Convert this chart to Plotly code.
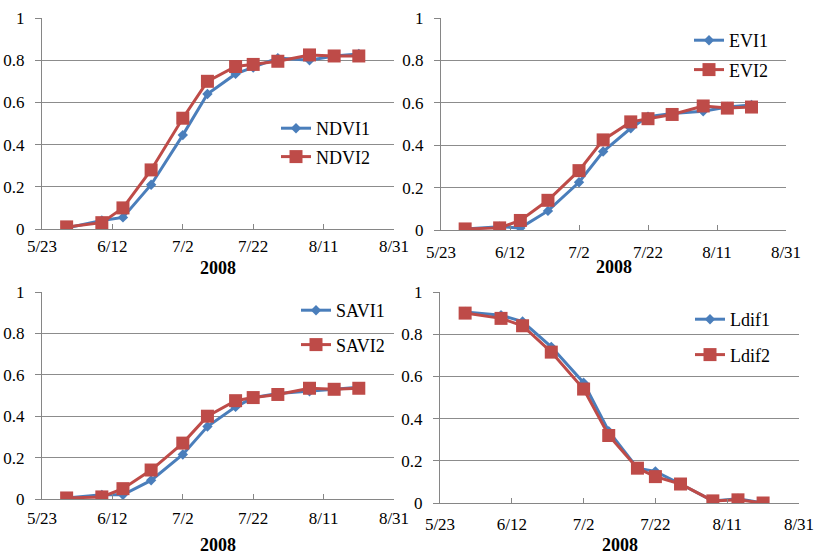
import plotly.graph_objects as go

dates = ["2008-05-30", "2008-06-09", "2008-06-15", "2008-06-23", "2008-07-02", "2008-07-09",
         "2008-07-17", "2008-07-22", "2008-07-29", "2008-08-07", "2008-08-14", "2008-08-21"]

ndvi1 = [0.005, 0.04, 0.055, 0.21, 0.445, 0.64, 0.735, 0.765, 0.81, 0.80, 0.82, 0.83]
ndvi2 = [0.01, 0.03, 0.10, 0.28, 0.525, 0.70, 0.77, 0.78, 0.795, 0.825, 0.82, 0.82]
evi1 = [0.005, 0.015, 0.01, 0.09, 0.225, 0.37, 0.48, 0.535, 0.55, 0.56, 0.58, 0.59]
evi2 = [0.005, 0.01, 0.045, 0.14, 0.28, 0.425, 0.51, 0.525, 0.545, 0.585, 0.575, 0.58]
savi1 = [0.005, 0.02, 0.02, 0.09, 0.215, 0.35, 0.445, 0.49, 0.51, 0.52, 0.53, 0.54]
savi2 = [0.005, 0.01, 0.05, 0.14, 0.27, 0.40, 0.475, 0.49, 0.505, 0.535, 0.53, 0.535]
ldif1 = [0.905, 0.89, 0.86, 0.74, 0.57, 0.34, 0.165, 0.15, 0.09, 0.01, 0.02, 0.0]
ldif2 = [0.90, 0.875, 0.84, 0.715, 0.54, 0.32, 0.165, 0.125, 0.09, 0.01, 0.015, 0.0]

panels = [
    ("NDVI1", ndvi1, "NDVI2", ndvi2),
    ("EVI1", evi1, "EVI2", evi2),
    ("SAVI1", savi1, "SAVI2", savi2),
    ("Ldif1", ldif1, "Ldif2", ldif2),
]
axis_title = "2008"
x_start, x_end = "2008-05-23", "2008-08-31"

W, H = 817, 554
BLUE = "#4A7EBB"
RED = "#BE4B48"
FONT = "'Liberation Serif', 'Times New Roman', serif"

# pixel geometry of each panel: (left, right, top(y=1), bottom(y=0))
geom = [(42, 394, 18, 229), (441, 786, 18, 230), (42, 394, 292, 499), (440, 799, 292, 503)]
# x tick-label standoff and title offset below the axis
xlab = [(2, -39), (7, -37), (4, -46), (6, -42)]
# legend placement (left px, top px, gap)
leg = [(276, 110, 2), (689, 22, 3), (296, 292, 8), (690, 301, 9)]

fig = go.Figure()
layout = dict(width=W, height=H, margin=dict(l=0, r=0, t=0, b=0, autoexpand=False),
              paper_bgcolor="white", plot_bgcolor="white",
              font=dict(family=FONT, size=17, color="black"), annotations=[])

for i, (n1, v1, n2, v2) in enumerate(panels):
    k = "" if i == 0 else str(i + 1)
    lg = "legend" if i == 0 else f"legend{i + 1}"
    fig.add_trace(go.Scatter(x=dates, y=v1, name=n1, mode="lines+markers",
                             line=dict(color=BLUE, width=3),
                             marker=dict(symbol="diamond", size=8, color=BLUE),
                             xaxis="x" + k, yaxis="y" + k, legend=lg, legendgroup=f"a{i}"))
    fig.add_trace(go.Scatter(x=dates, y=v2, name=n2, mode="lines+markers",
                             line=dict(color=RED, width=3),
                             marker=dict(symbol="square", size=13, color=RED),
                             xaxis="x" + k, yaxis="y" + k, legend=lg, legendgroup=f"b{i}"))
    l, r, t, b = geom[i]
    so, ty = xlab[i]
    layout["xaxis" + k] = dict(
        domain=[l / W, r / W], anchor="y" + k, type="date", automargin=False,
        range=[x_start, x_end], tick0=x_start, dtick=20 * 86400000,
        tickformat="%-m/%-d", ticks="inside", ticklen=5, tickcolor="#868686",
        showline=True, linecolor="#868686", linewidth=1, showgrid=False,
        tickfont=dict(family=FONT, size=17), zeroline=False, ticklabelstandoff=so)
    layout["yaxis" + k] = dict(
        domain=[1 - b / H, 1 - t / H], anchor="x" + k, range=[0, 1], automargin=False,
        dtick=0.2, tick0=0, ticks="outside", ticklen=6, tickcolor="#868686",
        showline=True, linecolor="#868686", linewidth=1,
        showgrid=True, gridcolor="#8C8C8C", gridwidth=1, zeroline=False,
        tickfont=dict(family=FONT, size=17), ticklabelstandoff=7)
    lx, ly, gap = leg[i]
    layout[lg] = dict(x=lx / W, y=1 - ly / H, xanchor="left", yanchor="top",
                      bgcolor="rgba(0,0,0,0)", borderwidth=0,
                      font=dict(family=FONT, size=18), traceorder="grouped",
                      tracegroupgap=gap)
    layout["annotations"].append(dict(
        text="<b>" + axis_title + "</b>", xref=f"x{k} domain", yref=f"y{k} domain",
        x=0.5, y=0, yshift=ty, showarrow=False, yanchor="middle",
        font=dict(family=FONT, size=18)))

fig.update_layout(**layout)
fig.write_html("out.html", config={"displayModeBar": False},
               post_script="document.body.style.margin='0';")
